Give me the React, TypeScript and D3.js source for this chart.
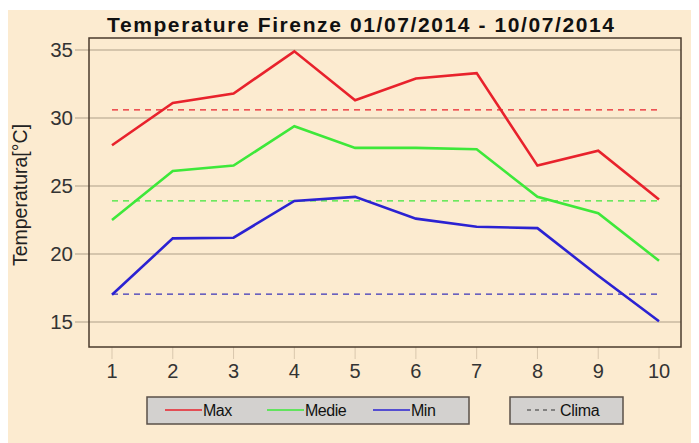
import React from 'react';
import * as d3 from 'd3';

const days = [1, 2, 3, 4, 5, 6, 7, 8, 9, 10];
const maxTemp = [28.0, 31.1, 31.8, 34.9, 31.3, 32.9, 33.3, 26.5, 27.6, 24.0];
const medieTemp = [22.5, 26.1, 26.5, 29.4, 27.8, 27.8, 27.7, 24.2, 23.0, 19.5];
const minTemp = [17.0, 21.15, 21.2, 23.9, 24.2, 22.6, 22.0, 21.9, 18.4, 15.05];
const climaMax = 30.6;
const climaMedie = 23.9;
const climaMin = 17.05;
const yTicks = [15, 20, 25, 30, 35];

const W = 691;
const H = 433;
const bg = '#fcebd0';

const App = () => {
  // svg sits at page (8,10)
  const left = 81, right = 673, top = 28, bottom = 337;
  const x = d3.scaleLinear().domain([1, 10]).range([104, 651]);
  const y = d3.scaleLinear().domain([15, 35]).range([312, 40]);

  const line = d3
    .line<number>()
    .x((_, i) => x(days[i]))
    .y((d) => y(d));

  const series = [
    { name: 'Max', values: maxTemp, color: '#e8222c', clima: climaMax },
    { name: 'Medie', values: medieTemp, color: '#3ee83a', clima: climaMedie },
    { name: 'Min', values: minTemp, color: '#2b22d2', clima: climaMin },
  ];

  const font = '"Liberation Sans", Arial, sans-serif';

  return (
    <svg width={W} height={H} style={{ display: 'block', marginTop: 2, background: bg }}>
      <rect x={0} y={0} width={W} height={H} fill={bg} />
      <text
        x={99}
        y={21.5}
        fontFamily={font}
        fontWeight="bold"
        fontSize={21}
        textLength={507}
        lengthAdjust="spacing"
        fill="#111"
      >
        Temperature Firenze 01/07/2014 - 10/07/2014
      </text>

      {/* grid + y ticks */}
      {yTicks.map((t) => (
        <g key={t}>
          <line x1={left - 14} x2={right} y1={y(t)} y2={y(t)} stroke="#c9b8a0" strokeWidth={1.5} />
          <text
            x={left - 16}
            y={y(t)}
            dy="0.36em"
            textAnchor="end"
            fontFamily={font}
            fontSize={20.5}
            fill="#333"
          >
            {t}
          </text>
        </g>
      ))}

      {/* x ticks */}
      {days.map((d) => (
        <g key={d}>
          <line x1={x(d)} x2={x(d)} y1={bottom} y2={bottom + 12} stroke="#d9c7ad" strokeWidth={1} />
          <text
            x={x(d)}
            y={bottom + 31}
            textAnchor="middle"
            fontFamily={font}
            fontSize={20}
            fill="#333"
          >
            {d}
          </text>
        </g>
      ))}

      <text
        transform={`translate(19,185) rotate(-90)`}
        textAnchor="middle"
        fontFamily={font}
        fontSize={19.5}
        fill="#222"
      >
        Temperatura[°C]
      </text>

      {/* clima dashed */}
      {series.map((s) => (
        <line
          key={s.name + 'c'}
          x1={x(1)}
          x2={x(10)}
          y1={y(s.clima)}
          y2={y(s.clima)}
          stroke={s.name === 'Min' ? '#3a34b8' : s.color}
          strokeWidth={1.3}
          strokeDasharray="6,5"
        />
      ))}

      {series.map((s) => (
        <path
          key={s.name}
          d={line(s.values) || ''}
          fill="none"
          stroke={s.color}
          strokeWidth={2.6}
          strokeLinejoin="miter"
        />
      ))}

      <rect
        x={left}
        y={top}
        width={right - left}
        height={bottom - top}
        fill="none"
        stroke="#4a3b2c"
        strokeWidth={1.5}
      />

      {/* legend */}
      <g fontFamily={font} fontSize={16} fill="#111">
        <rect x={139} y={387} width={322} height={27} fill="#d3d1cf" stroke="#5a5048" strokeWidth={1.5} />
        {series.map((s, i) => {
          const lx = [157, 259, 365][i];
          return (
            <g key={s.name + 'l'}>
              <line x1={lx} x2={lx + 37} y1={400} y2={400} stroke={s.color} strokeWidth={1.3} />
              <text x={lx + 38} y={406} letterSpacing={-0.5}>
                {s.name}
              </text>
            </g>
          );
        })}
        <rect x={502} y={387} width={113} height={27} fill="#d3d1cf" stroke="#5a5048" strokeWidth={1.5} />
        <line x1={519} x2={550} y1={400} y2={400} stroke="#333" strokeWidth={1.2} strokeDasharray="4,4" />
        <text x={552} y={406} letterSpacing={-0.3}>
          Clima
        </text>
      </g>
    </svg>
  );
};

export default App;
